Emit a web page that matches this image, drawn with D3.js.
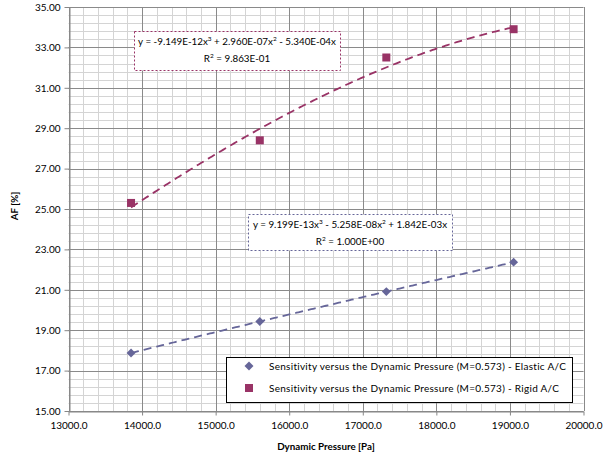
<!DOCTYPE html>
<html>
<head>
<meta charset="utf-8">
<script src="https://cdn.jsdelivr.net/npm/d3@7/dist/d3.min.js"></script>
<style>
  html, body { margin: 0; padding: 0; background: #fff; }
  svg { display: block; font-family: Lato, "Open Sans", sans-serif; }
</style>
</head>
<body>
<svg id="chart" width="606" height="456"></svg>
<script>
// Dynamic pressure [Pa] for each case
const pressures = [13850, 15600, 17320, 19050];
// AF [%] for each aircraft model
const elasticAF = [17.87, 19.43, 20.91, 22.37];
const rigidAF = [25.3, 28.4, 32.5, 33.9];

const seriesNames = [
  "Sensitivity versus the Dynamic Pressure (M=0.573) - Elastic A/C",
  "Sensitivity versus the Dynamic Pressure (M=0.573) - Rigid A/C"
];

// Cubic trendline coefficients [x^3, x^2, x]
const elasticFit = [9.199e-13, -5.258e-08, 1.842e-03];
const rigidFit = [-9.149e-12, 2.960e-07, -5.340e-04];
const elasticR2 = "1.000E+00";
const rigidR2 = "9.863E-01";

const xTicks = [13000, 14000, 15000, 16000, 17000, 18000, 19000, 20000];
const yTicks = [15, 17, 19, 21, 23, 25, 27, 29, 31, 33, 35];

const colElastic = "#666699";
const colRigid = "#993366";

const svg = d3.select("#chart");
const m = { left: 68.5, right: 583.5, top: 7, bottom: 411 };

const x = d3.scaleLinear().domain([13000, 20000]).range([m.left, m.right]);
const y = d3.scaleLinear().domain([15, 35]).range([m.bottom, m.top]);

// Gridlines: minor first, then major on top
const minorX = d3.range(13000, 20001, 200);
const minorY = d3.range(15, 35.001, 0.4);
const grid = svg.append("g");
grid.selectAll(".mx").data(minorX).join("line")
  .attr("x1", d => Math.round(x(d)) + 0.5).attr("x2", d => Math.round(x(d)) + 0.5)
  .attr("y1", m.top).attr("y2", m.bottom)
  .attr("stroke", "#d4d4d4").attr("stroke-width", 1);
grid.selectAll(".my").data(minorY).join("line")
  .attr("y1", d => Math.round(y(d)) + 0.5).attr("y2", d => Math.round(y(d)) + 0.5)
  .attr("x1", m.left).attr("x2", m.right)
  .attr("stroke", "#d4d4d4").attr("stroke-width", 1);
grid.selectAll(".Mx").data(xTicks).join("line")
  .attr("x1", d => Math.round(x(d)) + 0.5).attr("x2", d => Math.round(x(d)) + 0.5)
  .attr("y1", m.top).attr("y2", m.bottom)
  .attr("stroke", "#8a8a8a").attr("stroke-width", 1);
grid.selectAll(".My").data(yTicks).join("line")
  .attr("y1", d => Math.round(y(d)) + 0.5).attr("y2", d => Math.round(y(d)) + 0.5)
  .attr("x1", m.left).attr("x2", m.right)
  .attr("stroke", "#8a8a8a").attr("stroke-width", 1);

// Axes
const xAxis = d3.axisBottom(x).tickValues(xTicks).tickFormat(d3.format(".1f")).tickSize(4).tickSizeOuter(0);
const yAxis = d3.axisLeft(y).tickValues(yTicks).tickFormat(d3.format(".2f")).tickSize(5).tickSizeOuter(0);

const gx = svg.append("g").attr("transform", `translate(0,${Math.round(y(15)) + 0.5})`).call(xAxis);
const gy = svg.append("g").attr("transform", `translate(${Math.round(x(13000)) + 0.5},0)`).call(yAxis);
[gx, gy].forEach(g => {
  g.select(".domain").attr("stroke", "#868686");
  g.selectAll(".tick line").attr("stroke", "#868686");
  g.selectAll(".tick text").attr("fill", "#000").style("font-size", "10px")
    .style("font-family", "Lato, 'Open Sans', sans-serif");
});
gx.selectAll(".tick text").attr("dy", "0.71em").attr("y", 10);
gy.selectAll(".tick text").attr("x", -9);

// Axis titles
svg.append("text").attr("x", 326).attr("y", 450).attr("text-anchor", "middle")
  .style("font-size", "9.8px").style("font-weight", "bold").text("Dynamic Pressure [Pa]");
svg.append("text").attr("transform", "translate(18,206) rotate(-90)").attr("text-anchor", "middle")
  .style("font-size", "9.8px").style("font-weight", "bold").text("AF [%]");

// Trendlines from fitted coefficients over the data range
const poly = (c, v) => c[0] * v * v * v + c[1] * v * v + c[2] * v;
const fitX = d3.range(pressures[0], pressures[pressures.length - 1] + 1, 25);
const line = d3.line().x(d => x(d[0])).y(d => y(d[1]));

svg.append("path").datum(fitX.map(v => [v, poly(rigidFit, v)]))
  .attr("d", line).attr("fill", "none").attr("stroke", colRigid)
  .attr("stroke-width", 1.8).attr("stroke-dasharray", "8,5");
svg.append("path").datum(fitX.map(v => [v, poly(elasticFit, v)]))
  .attr("d", line).attr("fill", "none").attr("stroke", colElastic)
  .attr("stroke-width", 1.8).attr("stroke-dasharray", "8,5");

// Markers: diamonds are squares turned 45 degrees
const diamond = d3.symbol().type(d3.symbolSquare).size(40);
svg.append("g").selectAll("path").data(pressures.map((p, i) => [p, elasticAF[i]])).join("path")
  .attr("transform", d => `translate(${x(d[0])},${y(d[1])}) rotate(45)`)
  .attr("d", diamond).attr("fill", colElastic);
svg.append("g").selectAll("rect").data(pressures.map((p, i) => [p, rigidAF[i]])).join("rect")
  .attr("x", d => x(d[0]) - 4).attr("y", d => y(d[1]) - 4)
  .attr("width", 8).attr("height", 8).attr("fill", colRigid);

// Equation labels
function eqLabel(cx, top, w, h, color, coefs, r2) {
  const g = svg.append("g");
  g.append("rect").attr("x", cx - w / 2 + 0.5).attr("y", top + 0.5).attr("width", w).attr("height", h)
    .attr("fill", "#fff").attr("stroke", color).attr("stroke-width", 1).attr("stroke-dasharray", "2,2");
  const fmt = v => Math.abs(v).toExponential(3).toUpperCase().replace(/E([+-])(\d)$/, "E$10$2");
  const sign = v => (v < 0 ? " - " : " + ");
  const t = g.append("text").attr("x", cx).attr("y", top + 14).attr("text-anchor", "middle")
    .style("font-size", "9.8px");
  t.append("tspan").text("y = " + (coefs[0] < 0 ? "-" : "") + fmt(coefs[0]) + "x");
  t.append("tspan").attr("dy", -4).style("font-size", "6.5px").text("3");
  t.append("tspan").attr("dy", 4).text(sign(coefs[1]) + fmt(coefs[1]) + "x");
  t.append("tspan").attr("dy", -4).style("font-size", "6.5px").text("2");
  t.append("tspan").attr("dy", 4).text(sign(coefs[2]) + fmt(coefs[2]) + "x");
  const r = g.append("text").attr("x", cx).attr("y", top + 31).attr("text-anchor", "middle")
    .style("font-size", "9.8px");
  r.append("tspan").text("R");
  r.append("tspan").attr("dy", -4).style("font-size", "6.5px").text("2");
  r.append("tspan").attr("dy", 4).text(" = " + r2);
}
eqLabel(237, 31, 206, 39, colRigid, rigidFit, rigidR2);
eqLabel(350, 214, 204, 36, colElastic, elasticFit, elasticR2);

// Legend
const lg = svg.append("g");
lg.append("rect").attr("x", 226.5).attr("y", 357.5).attr("width", 346).attr("height", 45)
  .attr("fill", "#fff").attr("stroke", "#000").attr("stroke-width", 1);
lg.append("path").attr("transform", "translate(249,366) rotate(45)").attr("d", diamond).attr("fill", colElastic);
lg.append("rect").attr("x", 245).attr("y", 384).attr("width", 8).attr("height", 8).attr("fill", colRigid);
lg.selectAll("text.lt").data(seriesNames).join("text")
  .attr("x", 269).attr("y", (d, i) => 369.5 + i * 22)
  .style("font-size", "10px").style("letter-spacing", "0.28px").text(d => d);
</script>
</body>
</html>
